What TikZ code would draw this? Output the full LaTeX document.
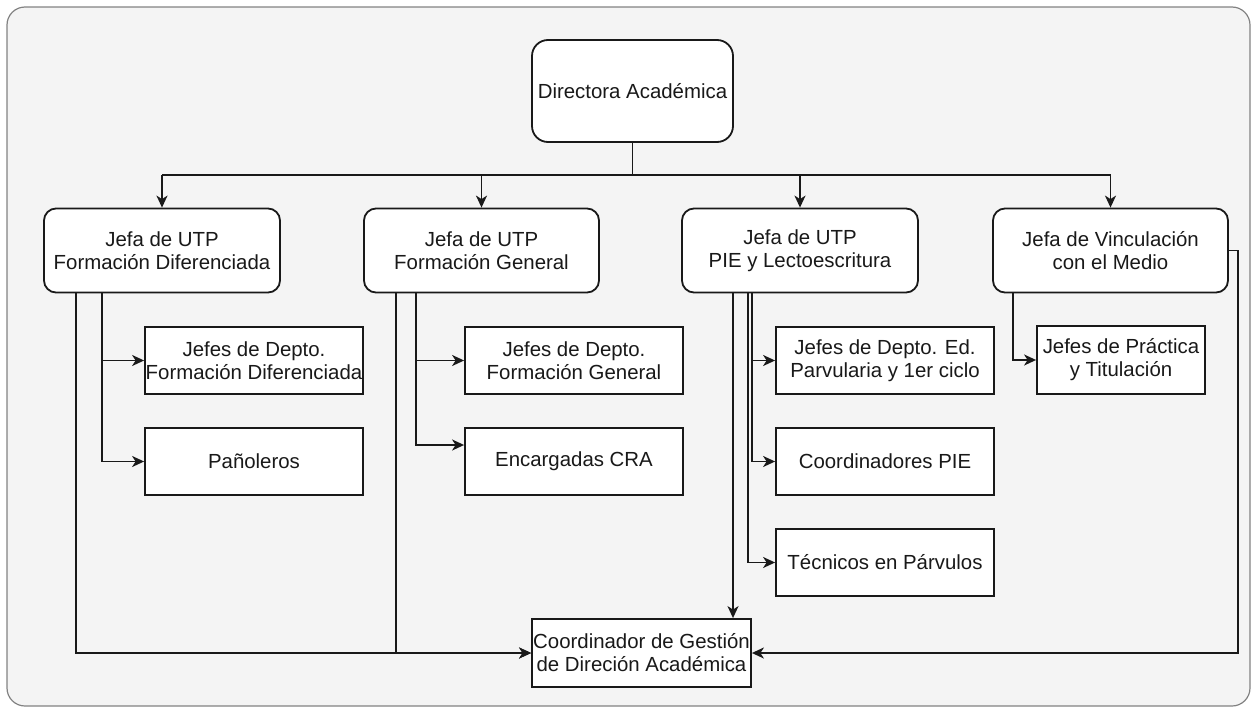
\documentclass[tikz,border=0pt]{standalone}
\usepackage{fontspec}
\setmainfont{Liberation Sans}
\usetikzlibrary{arrows.meta}
\definecolor{bgfill}{RGB}{244,244,244}
\definecolor{bgline}{RGB}{130,130,130}
\definecolor{ink}{RGB}{25,25,25}
\begin{document}
\begin{tikzpicture}[x=1pt,y=-1pt,
  box/.style={draw=ink, line width=1.8pt, fill=white, align=center, text=ink,
    font=\fontsize{20.4}{23}\selectfont, inner sep=0pt},
  rbox/.style={box, rounded corners=12pt},
  conn/.style={line width=1.8pt, draw=ink, -{Stealth[length=12pt,width=11pt,inset=3.5pt]}},
  plain/.style={line width=1.8pt, draw=ink}]
\useasboundingbox (0,0) rectangle (1251,707);
\draw[draw=bgline, fill=bgfill, line width=1.2pt, rounded corners=18pt] (7,7) rectangle (1250,706);

% top
\node[rbox, rounded corners=16pt, minimum width=201pt, minimum height=102pt] (dir) at (632.5,91) {Directora Académica};
% level 2
\node[rbox, minimum width=236pt, minimum height=84pt] (fd) at (162,250.5) {Jefa de UTP\\Formación Diferenciada};
\node[rbox, minimum width=235pt, minimum height=84pt] (fg) at (481.5,250.5) {Jefa de UTP\\Formación General};
\node[rbox, minimum width=236pt, minimum height=84pt] (pie) at (800,250.5) {Jefa de UTP\\PIE y Lectoescritura};
\node[rbox, minimum width=235pt, minimum height=84pt] (vin) at (1110.5,250.5) {Jefa de Vinculación\\con el Medio};
% level 3
\node[box, minimum width=218pt, minimum height=67pt] (jfd) at (254,360.5) {Jefes de Depto.\\Formación Diferenciada};
\node[box, minimum width=218pt, minimum height=67pt] (pan) at (254,461.5) {Pañoleros};
\node[box, minimum width=218pt, minimum height=67pt] (jfg) at (574,360.5) {Jefes de Depto.\\Formación General};
\node[box, minimum width=218pt, minimum height=67pt] (cra) at (574,461.5) {Encargadas CRA};
\node[box, minimum width=218pt, minimum height=67pt] (jed) at (885,360.5) {Jefes de Depto. Ed.\\Parvularia y 1er ciclo};
\node[box, minimum width=218pt, minimum height=67pt] (cpie) at (885,461.5) {Coordinadores PIE};
\node[box, minimum width=218pt, minimum height=67pt] (tec) at (885,562.5) {Técnicos en Párvulos};
\node[box, minimum width=168pt, minimum height=68pt] (jpr) at (1121,360) {Jefes de Práctica\\y Titulación};
% bottom
\node[box, minimum width=219pt, minimum height=68pt] (coord) at (641.5,653) {Coordinador de Gestión\\de Direción Académica};

% bus from top
\coordinate (bus) at (632.5,175);
\draw[plain] (dir.south) -- (bus);
\draw[plain] (fd.north |- bus) -- (vin.north |- bus);
\draw[conn] (fd.north |- bus) -- (fd.north);
\draw[conn] (fg.north |- bus) -- (fg.north);
\draw[conn] (pie.north |- bus) -- (pie.north);
\draw[conn] (vin.north |- bus) -- (vin.north);

% Formación Diferenciada
\draw[conn] ([xshift=-86pt]fd.south) |- (coord.west);
\draw[conn] ([xshift=-60pt]fd.south) |- (jfd.west);
\draw[conn] ([xshift=-60pt]fd.south) |- (pan.west);

% Formación General
\draw[conn] ([xshift=-85.5pt]fg.south) |- (coord.west);
\draw[conn] ([xshift=-65.5pt]fg.south) |- (jfg.west);
\draw[conn] ([xshift=-65.5pt]fg.south) |- ([yshift=16.5pt]cra.west);

% PIE
\draw[conn] ([xshift=-67pt]pie.south) -- ([xshift=-67pt]pie.south |- coord.north);
\draw[conn] ([xshift=-48pt]pie.south) |- (jed.west);
\draw[conn] ([xshift=-48pt]pie.south) |- (cpie.west);
\draw[conn] ([xshift=-52pt]pie.south) |- (tec.west);

% Vinculación
\draw[conn] ([xshift=-97.5pt]vin.south) |- (jpr.west);
\draw[conn] (vin.east) -- ++(9,0) |- (coord.east);
\end{tikzpicture}
\end{document}
